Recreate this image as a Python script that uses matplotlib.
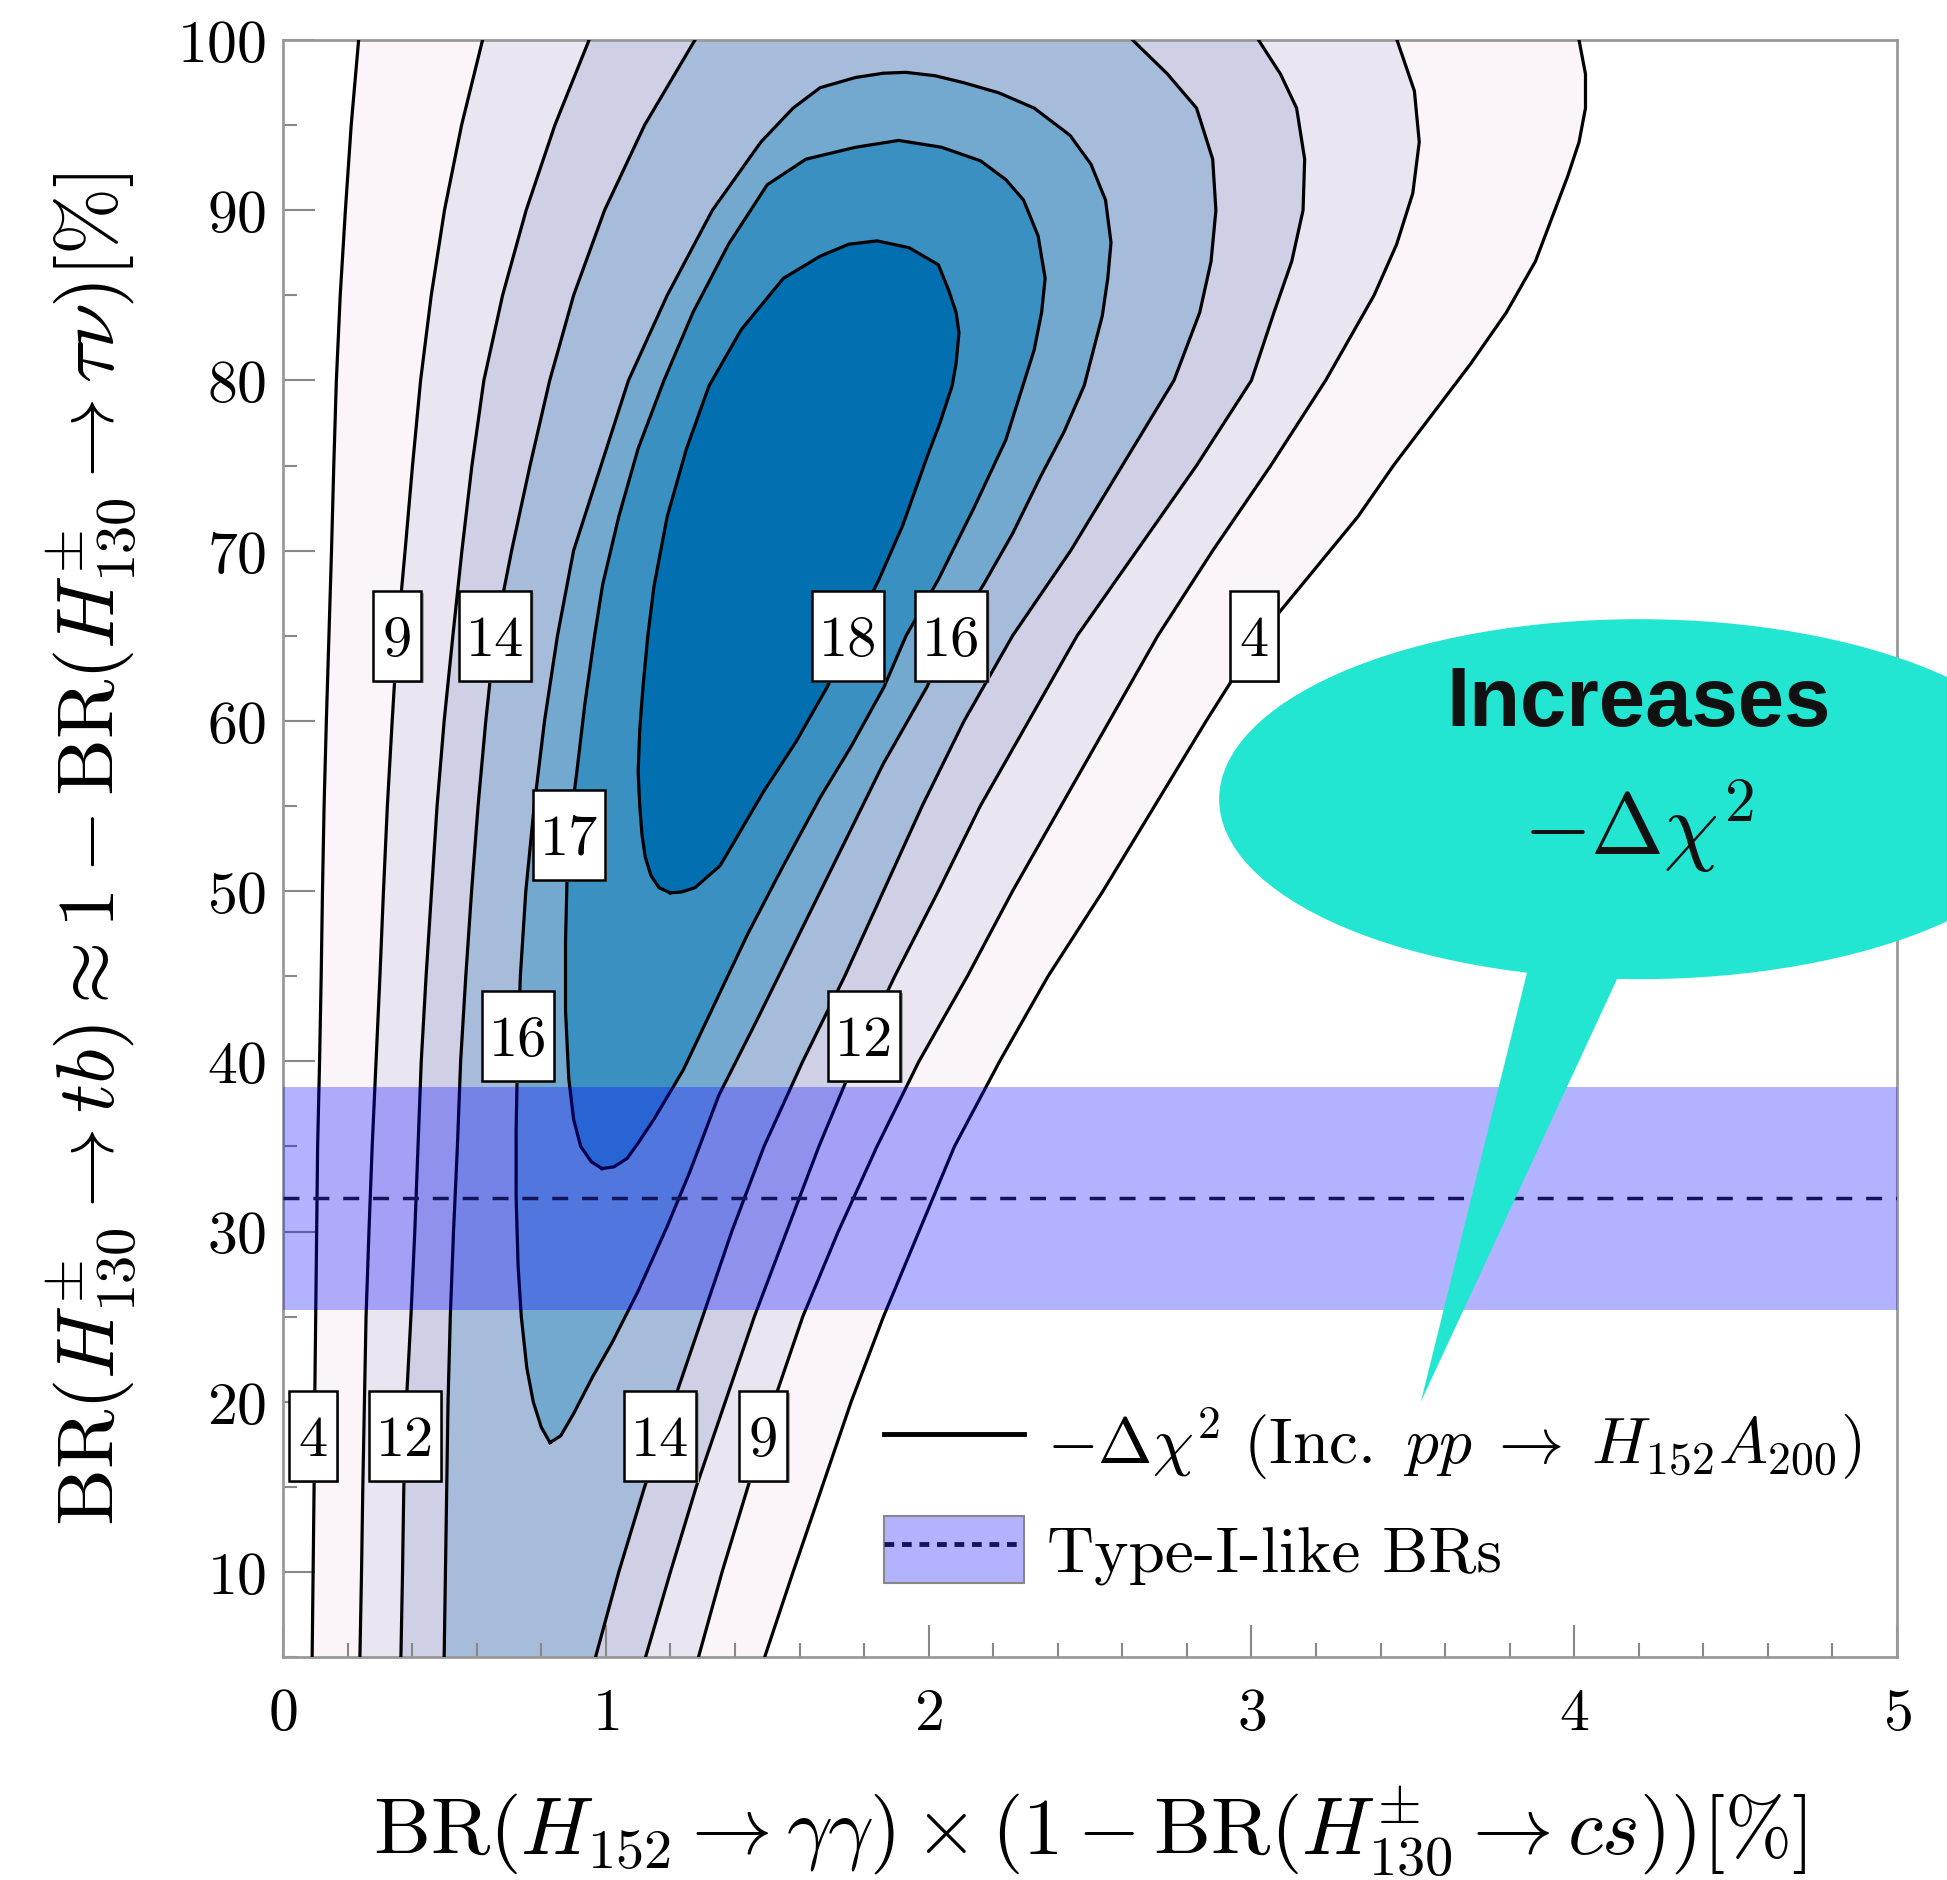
import matplotlib
matplotlib.use("Agg")
import matplotlib.pyplot as plt
from matplotlib.patches import Ellipse, Polygon, Patch, Rectangle
from matplotlib.lines import Line2D
from matplotlib.transforms import ScaledTranslation

plt.rcParams['mathtext.fontset'] = 'cm'
plt.rcParams['font.family'] = 'serif'
plt.rcParams['font.serif'] = ['cmr10']
plt.rcParams['axes.unicode_minus'] = False
plt.rcParams['axes.formatter.use_mathtext'] = True

# -Delta chi^2 contour levels and their fill colours (PuBu-like)
levels = [4, 9, 12, 14, 16, 17, 18]
fill_colors = ['#fbf4f8', '#eae6f1', '#cfd0e5', '#a7bcdb', '#74a9cf', '#3a90c0', '#0270b0']

# open contours: left branch x at the shared y grid (bottom -> top)
y_grid = [5, 10, 15, 20, 25, 30, 35, 40, 45, 50, 55, 60, 65, 70, 75, 80, 85, 90, 95, 100]
c4_left_x = [0.090, 0.093, 0.096, 0.098, 0.101, 0.104, 0.107, 0.113, 0.118, 0.122,
             0.127, 0.134, 0.142, 0.150, 0.157, 0.165, 0.177, 0.193, 0.211, 0.234]
c9_left_x = [0.238, 0.243, 0.247, 0.252, 0.257, 0.266, 0.276, 0.288, 0.300, 0.311,
             0.323, 0.338, 0.354, 0.378, 0.401, 0.426, 0.459, 0.500, 0.553, 0.618]
c12_left_x = [0.365, 0.370, 0.374, 0.382, 0.396, 0.408, 0.418, 0.428, 0.443, 0.460,
              0.477, 0.499, 0.526, 0.554, 0.585, 0.622, 0.680, 0.753, 0.842, 0.948]
c14_left_x = [0.499, 0.503, 0.507, 0.511, 0.518, 0.528, 0.540, 0.550, 0.566, 0.584,
              0.604, 0.628, 0.656, 0.708, 0.765, 0.826, 0.900, 0.996, 1.120, 1.276]

# open contours: right branch (top -> bottom)
c4_right_y = [100, 98, 96, 94, 92, 90, 87, 84, 81, 78, 75, 72, 69, 66, 63, 60, 55, 50,
              45, 40, 35, 30, 25, 20, 15, 10, 5]
c4_right_x = [4.015, 4.035, 4.035, 4.015, 3.98, 3.94, 3.88, 3.79, 3.68, 3.56, 3.44, 3.33,
              3.20, 3.07, 2.96, 2.86, 2.70, 2.54, 2.37, 2.22, 2.08, 1.97, 1.86, 1.76,
              1.67, 1.58, 1.492]
c9_right_y = [100, 97, 94, 91, 88, 85, 80, 75, 70, 65, 60, 55, 50, 45, 40, 35, 30, 25,
              20, 15, 10, 5]
c9_right_x = [3.451, 3.505, 3.52, 3.50, 3.45, 3.38, 3.23, 3.06, 2.88, 2.71, 2.56, 2.41,
              2.26, 2.12, 1.97, 1.84, 1.72, 1.61, 1.52, 1.44, 1.36, 1.287]
c12_right_y = [100, 98, 96, 93, 90, 87, 84, 80, 75, 70, 65, 60, 55, 50, 45, 40, 35, 30,
               25, 20, 15, 10, 5]
c12_right_x = [3.022, 3.09, 3.14, 3.165, 3.16, 3.125, 3.07, 3.0, 2.83, 2.645, 2.46, 2.31,
               2.16, 2.03, 1.895, 1.77, 1.66, 1.56, 1.46, 1.37, 1.28, 1.20, 1.123]
c14_right_y = [100, 98, 96, 93, 90, 87, 84, 80, 75, 70, 65, 60, 55, 50, 45, 40, 35, 30,
               25, 20, 15, 10, 5]
c14_right_x = [2.632, 2.74, 2.83, 2.88, 2.89, 2.875, 2.84, 2.76, 2.60, 2.44, 2.26, 2.11,
               1.98, 1.86, 1.74, 1.61, 1.49, 1.39, 1.30, 1.21, 1.12, 1.04, 0.968]

# closed contours (bottom, up the left side, over the top, down the right side)
c16_x = [0.827, 0.80, 0.775, 0.755, 0.738, 0.728, 0.722, 0.722, 0.726, 0.735,
         0.752, 0.778, 0.81, 0.85, 0.90, 0.985, 1.07, 1.19, 1.33, 1.48,
         1.58, 1.664, 1.774, 1.86, 1.93, 2.02, 2.107, 2.217, 2.327, 2.438,
         2.503, 2.548, 2.565, 2.555, 2.538, 2.482, 2.42, 2.348, 2.26, 2.17,
         2.07, 1.995, 1.86, 1.73, 1.60, 1.47, 1.35, 1.26, 1.19, 1.10,
         1.02, 0.96, 0.90, 0.86, 0.827]
c16_y = [17.6, 18.5, 20, 22, 25, 28, 32, 36, 40, 45,
         50, 55, 60, 65, 70, 75, 80, 85, 90, 94,
         96, 97.2, 97.8, 98.05, 98.1, 97.9, 97.5, 96.9, 96.0, 94.4,
         92.7, 90.6, 88.1, 86.0, 83.8, 79.7, 77.0, 74.4, 71.0, 68.0,
         65.0, 62.0, 57.5, 52.5, 47.5, 42.5, 38.0, 33.5, 30.3, 26.5,
         23.5, 21.5, 19.3, 18.0, 17.6]
c17_x = [0.988, 0.955, 0.922, 0.90, 0.885, 0.875, 0.875, 0.88, 0.89, 0.91, 0.935,
         0.965, 0.99, 1.04, 1.10, 1.18, 1.27, 1.38, 1.50, 1.62, 1.774,
         1.907, 2.04, 2.161, 2.239, 2.294, 2.339, 2.361, 2.35, 2.327, 2.239, 2.14,
         2.03, 1.93, 1.862, 1.76, 1.664, 1.55, 1.44, 1.34, 1.24, 1.149,
         1.10, 1.066, 1.025, 0.988]
c17_y = [33.7, 34.1, 35.0, 36.6, 39, 43, 47, 51, 54, 57, 61,
         65, 68, 72, 76, 80, 84, 88, 91.5, 93.0, 93.7,
         94.1, 93.7, 92.9, 91.8, 90.6, 88.5, 86.0, 84, 81.8, 76.5, 72.5,
         68.3, 65, 62, 58.5, 55.5, 51.5, 47.5, 43.5, 39.5, 36.6,
         35.2, 34.3, 33.8, 33.7]
c18_x = [1.199, 1.165, 1.14, 1.122, 1.112, 1.105, 1.10, 1.105, 1.115, 1.13, 1.149, 1.19,
         1.25, 1.32, 1.42, 1.55, 1.664, 1.752, 1.84, 1.939, 2.03, 2.062, 2.085, 2.094,
         2.085, 2.073, 2.035, 1.995, 1.92, 1.846, 1.76, 1.686, 1.59, 1.487,
         1.41, 1.354, 1.30, 1.276, 1.235, 1.199]
c18_y = [49.9, 50.2, 50.9, 52.0, 53.3, 55, 57, 59.5, 62, 65, 67.9, 72,
         76, 79.7, 83, 86, 87.3, 88.0, 88.2, 87.8, 86.8, 85.3, 84.0, 82.8,
         81, 79.7, 77.5, 75.5, 71.5, 68.3, 65, 62, 58.8, 55.8,
         53.3, 51.5, 50.6, 50.2, 49.95, 49.9]

# inline contour labels
clabel_text = [9, 14, 18, 16, 4, 17, 16, 12, 4, 12, 14, 9]
clabel_x = [0.354, 0.658, 1.75, 2.07, 3.008, 0.885, 0.727, 1.80, 0.092, 0.377, 1.169, 1.488]
clabel_y = [65, 65, 65, 65, 65, 53.3, 41.5, 41.5, 18, 18, 18, 18]

# Type-I-like band
band_lo, band_hi, band_mid = 25.4, 38.5, 32.0

open_branches = [
    (c4_left_x, c4_right_x, c4_right_y),
    (c9_left_x, c9_right_x, c9_right_y),
    (c12_left_x, c12_right_x, c12_right_y),
    (c14_left_x, c14_right_x, c14_right_y),
]
closed_loops = [(c16_x, c16_y), (c17_x, c17_y), (c18_x, c18_y)]

fig = plt.figure(figsize=(19.47, 18.81), dpi=100)
ax = fig.add_axes([0.1454, 0.1185, 0.8289, 0.8597])

# filled regions, outermost first
for (lx, rx, ry), col in zip(open_branches, fill_colors[:4]):
    ax.fill(lx + rx, y_grid + ry, color=col, lw=0, zorder=1)
for (cx, cy), col in zip(closed_loops, fill_colors[4:]):
    ax.fill(cx, cy, color=col, lw=0, zorder=1)

# contour lines
for lx, rx, ry in open_branches:
    ax.plot(lx, y_grid, color='k', lw=2.3, zorder=3, solid_joinstyle='round')
    ax.plot(rx, ry, color='k', lw=2.3, zorder=3, solid_joinstyle='round')
for cx, cy in closed_loops:
    ax.plot(cx, cy, color='k', lw=2.3, zorder=3, solid_joinstyle='round')

ax.axhspan(band_lo, band_hi, color='blue', alpha=0.3, lw=0, zorder=4)
ax.axhline(band_mid, color='#14145a', lw=2.5, dashes=(4.6, 4.0), zorder=4)

# boxed labels on the contours (box size in inches)
for lev, x, y in zip(clabel_text, clabel_x, clabel_y):
    w = 0.48 if lev < 10 else 0.72
    h = 0.90
    tr = fig.dpi_scale_trans + ScaledTranslation(x, y, ax.transData)
    ax.add_patch(Rectangle((-w / 2 + 0.025, -h / 2 - 0.025), w, h, transform=tr,
                           fc='#a0a0a0', ec='none', zorder=5))
    ax.add_patch(Rectangle((-w / 2, -h / 2), w, h, transform=tr,
                           fc='white', ec='black', lw=1.8, zorder=5.1))
    ax.annotate(str(lev), xy=(x, y), xytext=(0, -13.5), textcoords='offset points',
                ha='center', va='baseline', fontsize=42, zorder=6)

ax.set_xlim(0, 5)
ax.set_ylim(5, 100)
ax.set_xticks(range(6))
ax.set_xticks([i * 0.2 for i in range(26)], minor=True)
ax.set_yticks(range(10, 101, 10))
ax.set_yticks(range(5, 101, 5), minor=True)
ax.tick_params(which='both', direction='in', color='#888888', width=1.5,
               top=False, right=False, labelsize=43)
ax.tick_params(which='major', length=23)
ax.tick_params(which='minor', length=10)
ax.tick_params(axis='x', pad=22)
ax.tick_params(axis='y', pad=12)
for sp in ax.spines.values():
    sp.set_color('#999999')
    sp.set_linewidth(2)

ax.set_xlabel(r'$\mathrm{BR}(H_{152}\rightarrow\gamma\gamma)\times(1-\mathrm{BR}(H^{\pm}_{130}\rightarrow cs))[\%]$',
              fontsize=58, labelpad=30)
ax.set_ylabel(r'$\mathrm{BR}(H^{\pm}_{130}\rightarrow tb)\approx 1-\mathrm{BR}(H^{\pm}_{130}\rightarrow \tau\nu)[\%]$',
              fontsize=58, labelpad=28)

h_line = Line2D([], [], color='k', lw=3.5)
h_band = (Patch(fc=(0, 0, 1, 0.3), ec='#888888', lw=1.5),
          Line2D([], [], color='#14145a', lw=3.5, dashes=(2, 1.6)))
ax.legend([h_line, h_band],
          [r'$-\Delta\chi^2\ (\mathrm{Inc.}\ pp\;\rightarrow\;H_{152}A_{200})$', 'Type-I-like BRs'],
          loc='lower left', bbox_to_anchor=(0.336, 0.008), frameon=False, fontsize=47,
          handlelength=2.15, handleheight=1.2, labelspacing=0.55, handletextpad=0.35)

# speech bubble
bubble = '#22e6d2'
ax.add_patch(Ellipse((4.20, 55.4), 2.60, 21.15, fc=bubble, ec='none', zorder=10, clip_on=False))
ax.add_patch(Polygon([(3.872, 46.6), (4.176, 46.6), (3.525, 20.0)], closed=True,
                     fc=bubble, ec='none', zorder=10, clip_on=False))
ax.text(4.20, 59.75, 'Increases', family='Liberation Sans', fontweight='bold', fontsize=60,
        ha='center', va='baseline', zorder=11, clip_on=False, color='#111111')
ax.text(4.20, 52.2, r'$-\Delta\chi^2$', fontsize=63, ha='center', va='baseline',
        zorder=11, clip_on=False, color='#111111')

fig.savefig('out.png', dpi=100)
